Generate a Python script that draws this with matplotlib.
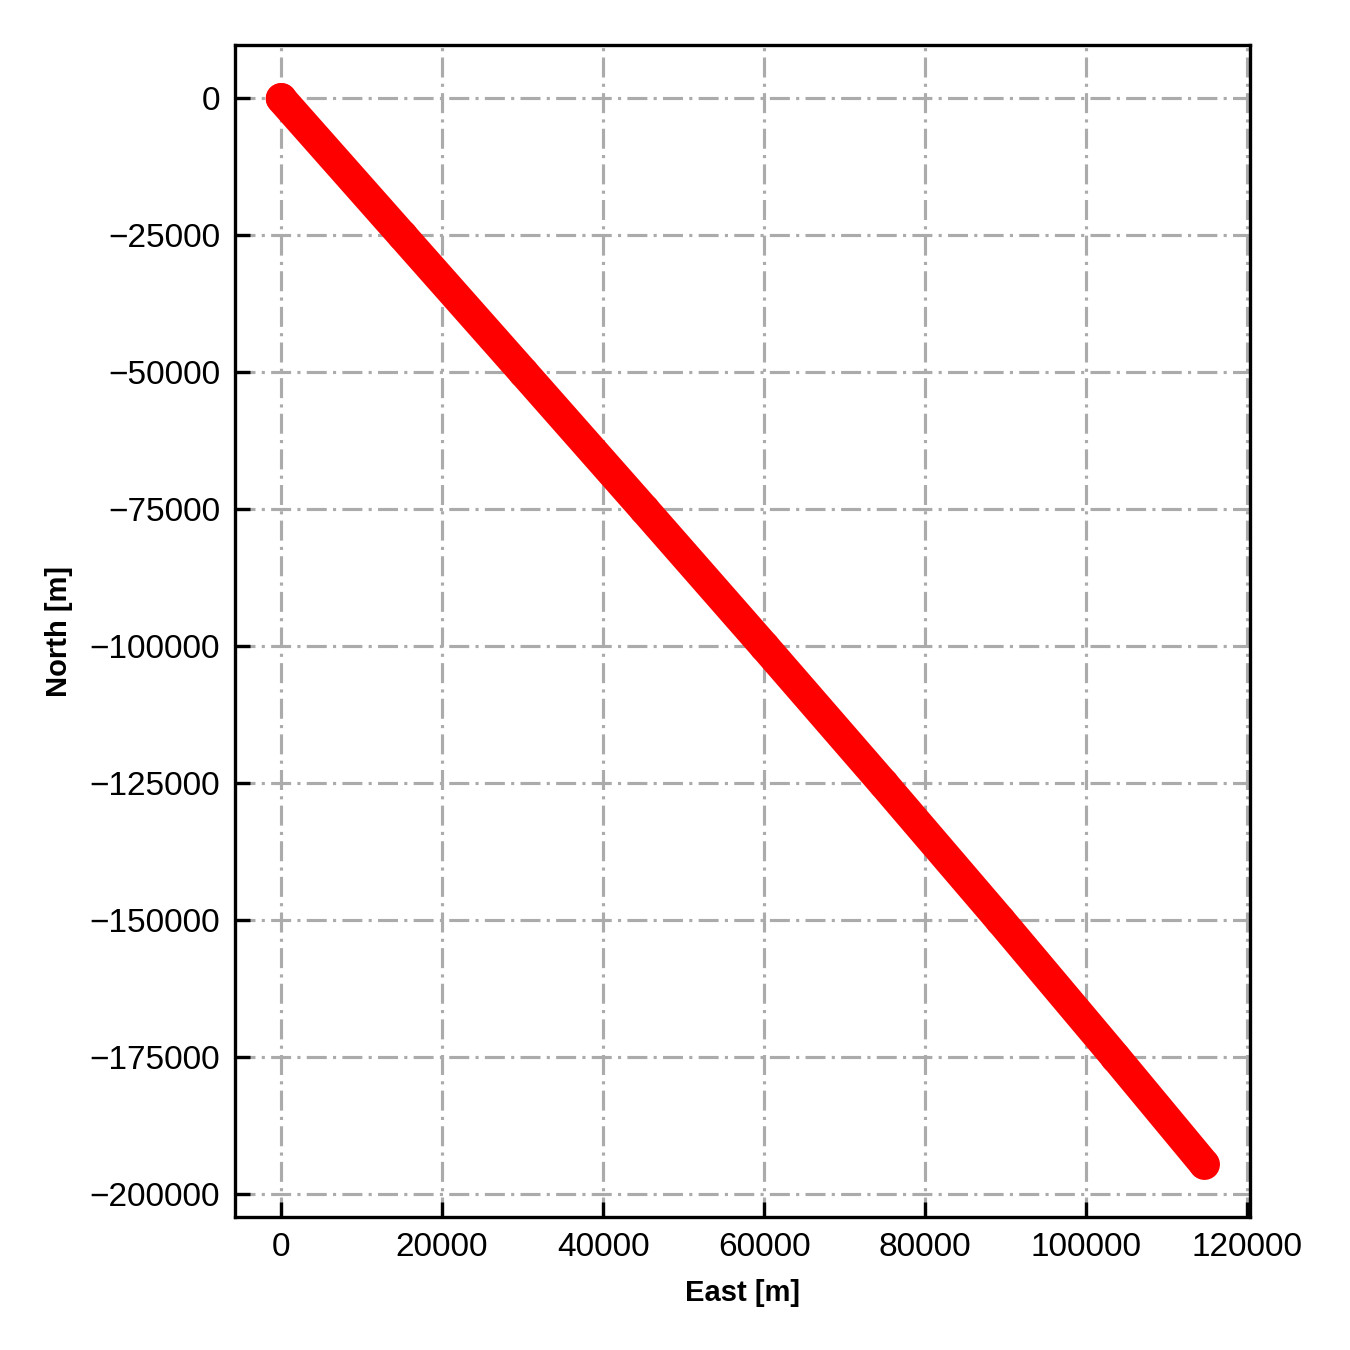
import matplotlib
matplotlib.use("Agg")
import matplotlib.pyplot as plt

plt.rcParams['font.family'] = ['Liberation Sans', 'DejaVu Sans']
plt.rcParams['axes.unicode_minus'] = True

# Track positions
east = [0, 15050, 30100, 45100, 60000, 74750, 89300, 103600, 114600]
north = [0, -25000, -50000, -75000, -100000, -125000, -150000, -175000, -194500]

fig = plt.figure(figsize=(4.5, 4.5), dpi=300)
ax = fig.add_axes([0.174, 0.0985, 0.752, 0.868])

ax.plot(east, north, '-', color='red', lw=7.4, solid_capstyle='round',
        solid_joinstyle='round', zorder=3)
ax.plot(east, north, 'o', color='red', ms=6.4, mew=1.0, zorder=3)

ax.set_xticks([0, 20000, 40000, 60000, 80000, 100000, 120000])
ax.set_yticks([0, -25000, -50000, -75000, -100000, -125000, -150000, -175000, -200000])

ax.grid(True, color='#ababab', linestyle=(0, (6.4, 2, 1, 2)), lw=0.75, zorder=0)
ax.set_axisbelow(True)

ax.tick_params(direction='in', length=3.6, width=0.8, labelsize=8,
               top=False, right=False, pad=3.5)
for s in ax.spines.values():
    s.set_linewidth(0.8)

ax.set_xlabel('East [m]', fontsize=7, fontweight='bold', labelpad=4)
ax.set_ylabel('North [m]', fontsize=7, fontweight='bold', labelpad=4)

fig.savefig('out.png', dpi=300)
